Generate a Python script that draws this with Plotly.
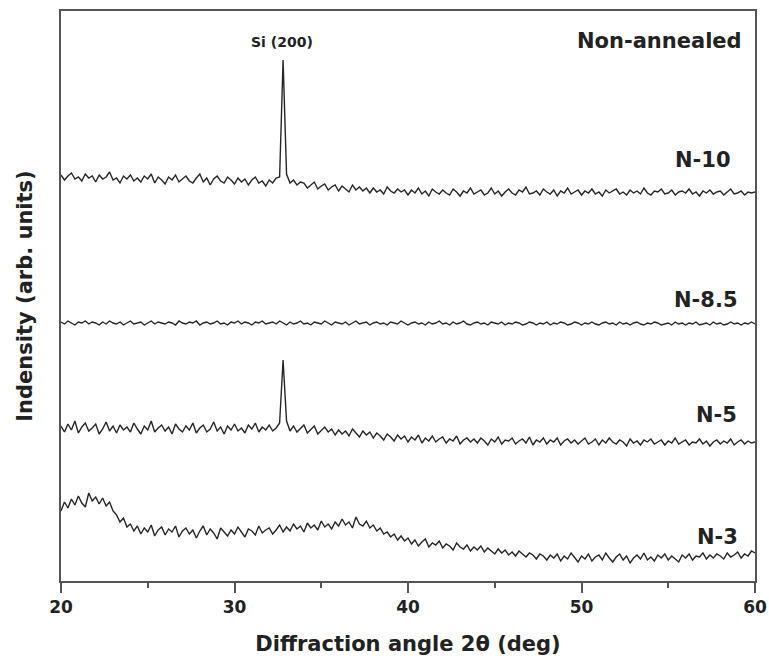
import numpy as np
import plotly.graph_objects as go

# 2θ grid (deg), 0.2 deg step
two_theta = np.linspace(20, 60, 201)

# Stacked intensities (arb. units, offsets included)
n10 = [406, 401, 405, 408, 402, 404, 400, 407, 403, 405,
       399, 406, 402, 404, 409, 401, 403, 398, 405, 402,
       406, 400, 403, 399, 405, 402, 407, 398, 404, 401,
       397, 404, 401, 406, 399, 402, 405, 400, 398, 403,
       407, 399, 403, 396, 402, 405, 400, 398, 404, 401,
       397, 403, 399, 402, 396, 401, 404, 398, 400, 395,
       401, 398, 403, 404, 521, 407, 398, 401, 396, 399,
       398, 393, 396, 399, 392, 395, 397, 391, 394, 396,
       390, 395, 392, 389, 396, 391, 394, 390, 393, 388,
       393, 389, 391, 387, 394, 390, 388, 392, 389, 391,
       386, 391, 388, 393, 387, 390, 385, 392, 389, 387,
       391, 388, 386, 392, 389, 385, 390, 388, 393, 387,
       389, 391, 386, 388, 393, 387, 390, 385, 389, 392,
       388, 386, 391, 389, 394, 387, 388, 390, 386, 392,
       389, 387, 391, 385, 390, 388, 393, 387, 389, 391,
       386, 390, 388, 392, 387, 389, 385, 391, 388, 390,
       392, 387, 389, 386, 391, 388, 390, 387, 393, 388,
       386, 390, 389, 392, 387, 388, 391, 386, 389, 390,
       388, 392, 387, 389, 385, 390, 388, 391, 387, 389,
       390, 386, 389, 392, 387, 388, 390, 386, 389, 388,
       389]

n85 = [259, 257, 260, 258, 256, 259, 258, 260, 257, 259,
       258, 256, 259, 257, 260, 258, 257, 259, 256, 258,
       260, 257, 258, 259, 256, 258, 260, 257, 259, 258,
       257, 259, 258, 256, 260, 258, 257, 259, 258, 260,
       256, 258, 259, 257, 258, 260, 257, 258, 256, 259,
       258, 260, 257, 259, 258, 256, 259, 258, 260, 257,
       258, 259, 257, 260, 258, 256, 259, 257, 258, 260,
       257, 258, 256, 259, 258, 257, 260, 258, 256, 259,
       258, 257, 259, 256, 258, 260, 257, 258, 259, 256,
       258, 259, 257, 258, 256, 259, 258, 257, 260, 258,
       256, 258, 259, 257, 258, 256, 259, 257, 258, 260,
       257, 258, 256, 259, 257, 258, 260, 257, 256, 258,
       259, 257, 258, 256, 259, 258, 257, 259, 256, 258,
       257, 259, 258, 256, 257, 259, 258, 256, 258, 257,
       259, 256, 258, 257, 259, 258, 256, 257, 259, 258,
       256, 258, 257, 259, 257, 256, 258, 259, 257, 258,
       256, 259, 257, 258, 256, 258, 259, 257, 256, 258,
       257, 259, 258, 256, 257, 258, 256, 259, 257, 258,
       256, 258, 257, 259, 256, 257, 258, 256, 259, 257,
       258, 256, 257, 259, 257, 258, 256, 258, 257, 259,
       257]

n5 = [155, 149, 157, 151, 160, 148, 154, 158, 150, 153,
      157, 147, 152, 159, 150, 155, 148, 156, 151, 154,
      149, 158, 152, 147, 155, 151, 160, 149, 153, 156,
      150, 154, 147, 157, 152, 149, 155, 151, 158, 148,
      153, 156, 149, 152, 159, 150, 154, 147, 155, 151,
      157, 150, 153, 148, 156, 152, 158, 149, 154, 151,
      156, 150, 153, 158, 221, 160, 150, 155, 149, 153,
      156, 148, 152, 155, 147, 151, 154, 149, 152, 146,
      151, 147, 150, 145, 152, 148, 144, 150, 146, 149,
      143, 148, 145, 141, 147, 144, 140, 146, 142, 145,
      139, 144, 141, 146, 138, 143, 140, 145, 139, 142,
      144, 138, 142, 140, 145, 137, 141, 143, 139, 142,
      138, 143, 140, 136, 142, 139, 144, 137, 141, 140,
      143, 137, 140, 142, 138, 144, 136, 141, 139, 143,
      137, 141, 139, 143, 136, 140, 142, 138, 141, 137,
      140, 143, 137, 139, 142, 136, 141, 138, 143, 139,
      137, 141, 139, 135, 142, 138, 140, 136, 141, 139,
      142, 137, 139, 141, 136, 140, 138, 143, 137, 139,
      141, 136, 139, 138, 142, 137, 140, 135, 139, 141,
      137, 140, 138, 142, 136, 139, 141, 137, 140, 138,
      139]

n3 = [70, 79, 73, 82, 76, 85, 78, 74, 88, 80,
      84, 77, 83, 75, 79, 70, 66, 59, 63, 54,
      57, 50, 55, 47, 53, 49, 56, 45, 51, 54,
      46, 52, 49, 55, 44, 50, 53, 47, 51, 43,
      50, 55, 46, 52, 48, 42, 53, 49, 45, 51,
      47, 54, 49, 44, 52, 50, 46, 55, 48, 51,
      53, 47, 51, 56, 49, 54, 50, 57, 52, 55,
      49, 58, 53, 56, 51, 60, 54, 57, 52, 59,
      55, 62, 56, 59, 53, 64, 57, 55, 60, 53,
      56, 50, 53, 47, 49, 44, 47, 41, 45, 40,
      43, 37, 41, 35, 39, 42, 34, 38, 36, 40,
      33, 37, 35, 31, 38, 34, 32, 36, 30, 34,
      31, 35, 29, 33, 30, 27, 32, 28, 31, 26,
      29, 25, 30, 27, 24, 28, 26, 22, 27, 25,
      21, 26, 23, 27, 20, 25, 22, 28, 24, 19,
      25, 22, 27, 20, 24, 26, 21, 28, 23, 19,
      24, 27, 21, 25, 18, 23, 26, 22, 28, 21,
      24, 20, 26, 23, 27, 21, 25, 22, 19, 26,
      23, 27, 21, 25, 24, 28, 22, 26, 23, 27,
      25, 22, 28, 24, 26, 29, 23, 27, 25, 30,
      28]

series_names = ["N-10", "N-8.5", "N-5", "N-3"]
series_values = [n10, n85, n5, n3]

# Label positions (2θ, intensity)
label_x = [58.72, 59.13, 59.07, 59.13]
label_y = [421, 281, 166, 44]

x_ticks = [20, 30, 40, 50, 60]
x_tick_text = ["20", "30", "40", "50", "60"]

FONT = "DejaVu Sans"
AX = "#555555"

fig = go.Figure()
for name, vals in zip(series_names, series_values):
    fig.add_trace(go.Scatter(x=two_theta, y=vals, mode="lines", name=name,
                             line=dict(color="#262626", width=1.4),
                             showlegend=False))

for name, lx, ly in zip(series_names, label_x, label_y):
    fig.add_annotation(x=lx, y=ly, text=name, showarrow=False,
                       xanchor="right", yanchor="middle",
                       font=dict(family=FONT, size=21, color="#222", weight="bold"))

fig.add_annotation(x=59.35, y=540, text="Non-annealed", showarrow=False,
                   xanchor="right", yanchor="middle",
                   font=dict(family=FONT, size=21, color="#222", weight="bold"))
fig.add_annotation(x=32.75, y=539, text="Si (200)", showarrow=False,
                   xanchor="center", yanchor="middle",
                   font=dict(family=FONT, size=14, color="#222", weight="bold"))

fig.update_layout(
    width=769, height=664,
    margin=dict(l=61, r=14, t=11, b=83),
    paper_bgcolor="white", plot_bgcolor="white",
    xaxis=dict(range=[20, 60], tickvals=x_ticks, ticktext=x_tick_text,
               automargin=False,
               ticks="outside", ticklen=10, tickwidth=2, tickcolor=AX,
               minor=dict(dtick=5, tick0=20, ticks="outside", ticklen=5,
                          tickwidth=2, tickcolor=AX, showgrid=False),
               showline=True, linewidth=2, linecolor=AX, mirror=True,
               showgrid=False, zeroline=False,
               tickfont=dict(family=FONT, size=17, color="#222", weight="bold"),
               title=dict(text="Diffraction angle 2θ (deg)", standoff=20,
                          font=dict(family=FONT, size=21, color="#222", weight="bold"))),
    yaxis=dict(range=[0, 570], showticklabels=False, ticks="",
               automargin=False,
               showline=True, linewidth=2, linecolor=AX, mirror=True,
               showgrid=False, zeroline=False,
               title=dict(text="Indensity (arb. units)", standoff=21,
                          font=dict(family=FONT, size=21, color="#222", weight="bold"))),
)

# Remove the browser's default page margin so the figure fills the window exactly.
fig.write_html("out.html",
               config={"displayModeBar": False},
               post_script="document.body.style.margin='0';"
                           "document.body.style.overflow='hidden';")
